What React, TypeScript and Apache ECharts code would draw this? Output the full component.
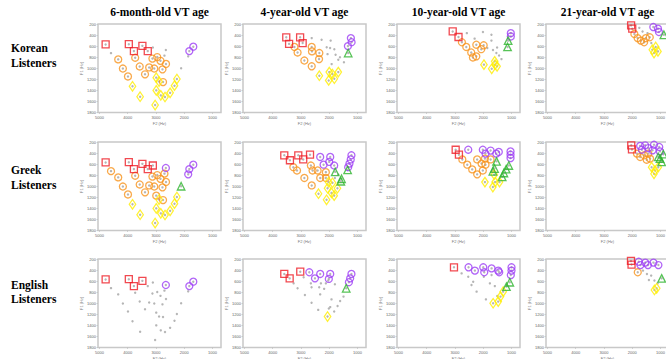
import React, { useEffect, useRef } from "react";
import * as echarts from "echarts";

type P = [number, number];

const columnTitles = ["6-month-old VT age", "4-year-old VT age", "10-year-old VT age", "21-year-old VT age"];
const rowTitles = [["Korean", "Listeners"], ["Greek", "Listeners"], ["English", "Listeners"]];
const f2Ticks = [5000, 4000, 3000, 2000, 1000];
const f1Ticks = [200, 400, 600, 800, 1000, 1200, 1400, 1600, 1800];

// ---------- 6-month-old VT age ----------
const korean6mRed: P[] = [[4780, 570], [3960, 565], [3780, 690], [3480, 595], [3290, 690]];
const korean6mPurple: P[] = [[1820, 690], [1680, 610]];
const korean6mOrange: P[] = [[4335, 840], [4170, 1005], [3990, 1148], [3735, 810], [3575, 968], [3387, 1110], [3240, 985], [3125, 825], [3060, 1005], [2955, 798], [2840, 866], [2770, 1020], [2645, 922], [2750, 1250]];
const korean6mYellow: P[] = [[2990, 1170], [2890, 1240], [3830, 1326], [3560, 1515], [3030, 1665], [2990, 1400], [2830, 1490], [2680, 1520], [2500, 1445], [2345, 1315], [2260, 1195]];
const korean6mGray: P[] = [[3110, 625], [2650, 670], [1860, 785], [2110, 1000], [4590, 727], [2700, 772]];

const greek6mRed: P[] = [[4780, 570], [3960, 565], [3780, 690], [3480, 595], [3290, 690], [3110, 625]];
const greek6mPurple: P[] = [[2650, 670], [1860, 785], [1820, 690], [1680, 610]];
const greek6mGreen: P[] = [[2110, 1000]];
const greek6mOrange: P[] = [[4590, 727], [4335, 840], [4170, 1005], [3990, 1148], [3735, 810], [3575, 968], [3387, 1110], [3240, 985], [3125, 825], [3060, 1005], [2955, 798], [2840, 866], [2770, 1020], [2700, 772], [2645, 922], [2990, 1170], [2750, 1250]];
const greek6mYellow: P[] = [[2890, 1240], [3830, 1326], [3560, 1515], [3030, 1665], [2990, 1400], [2830, 1490], [2680, 1520], [2500, 1445], [2345, 1315], [2260, 1195]];

const english6mRed: P[] = [[4780, 570], [3960, 565], [3780, 690], [3480, 595]];
const english6mPurple: P[] = [[2650, 670], [1820, 690], [1680, 610]];
const english6mGray: P[] = [[3290, 690], [3110, 625], [1860, 785], [2110, 1000], [4590, 727], [4335, 840], [4170, 1005], [3990, 1148], [3735, 810], [3575, 968], [3387, 1110], [3240, 985], [3125, 825], [3060, 1005], [2955, 798], [2840, 866], [2770, 1020], [2700, 772], [2645, 922], [2990, 1170], [2750, 1250], [2890, 1240], [3830, 1326], [3560, 1515], [3030, 1665], [2990, 1400], [2830, 1490], [2680, 1520], [2500, 1445], [2345, 1315], [2260, 1195]];

// ---------- 4-year-old VT age ----------
const korean4yRed: P[] = [[3520, 440], [3420, 560], [3030, 440], [2940, 545]];
const korean4yOrange: P[] = [[3230, 615], [3120, 715], [2880, 860], [2620, 615], [2610, 695], [2350, 725], [2360, 835], [2620, 965]];
const korean4yYellow: P[] = [[2350, 1135], [2000, 1070], [1890, 1105], [1680, 1070], [1820, 1190], [2020, 1220]];
const korean4yPurple: P[] = [[1235, 455], [1210, 530], [1340, 600]];
const korean4yGreen: P[] = [[1330, 725]];
const korean4yGray: P[] = [[2620, 455], [2270, 485], [1950, 500], [2090, 620], [1970, 635], [1820, 655], [2060, 745], [1775, 755], [1915, 925], [1680, 845], [1480, 890], [1620, 800]];

const greek4yRed: P[] = [[3590, 440], [3390, 530], [3095, 440], [2920, 515], [2680, 430]];
const greek4yPurple: P[] = [[2320, 470], [1965, 470], [2000, 560], [2200, 610], [1825, 625], [1215, 440], [1240, 515], [1285, 590], [1330, 655]];
const greek4yGreen: P[] = [[1790, 740], [1350, 705], [1565, 865], [1590, 910]];
const greek4yOrange: P[] = [[3270, 655], [3140, 715], [2880, 850], [2650, 625], [2590, 715], [2410, 715], [2320, 850], [2120, 745], [2120, 850], [2620, 985]];
const greek4yYellow: P[] = [[2380, 1135], [2025, 925], [1885, 937], [2060, 1035], [1710, 1035], [1920, 1120], [1825, 1170], [2095, 1245]];
const greek4yGray: P[] = [[1800, 850], [1680, 790]];

const english4yRed: P[] = [[3590, 470], [3400, 550], [3025, 430]];
const english4yPurple: P[] = [[2705, 440], [2505, 550], [2320, 470], [1965, 470], [2015, 560], [1215, 470], [1260, 550], [1305, 620]];
const english4yGreen: P[] = [[1400, 730]];
const english4yYellow: P[] = [[2060, 1240]];
const english4yGray: P[] = [[3260, 640], [3120, 730], [2905, 530], [2860, 850], [2625, 990], [2650, 640], [2625, 710], [2355, 710], [2320, 840], [2390, 1120], [2295, 640], [2120, 640], [2180, 740], [1920, 930], [1800, 655], [1965, 1070], [2015, 1095], [1825, 1150], [1705, 1050], [1615, 960], [1495, 880], [2035, 590]];

// ---------- 10-year-old VT age ----------
const korean10yRed: P[] = [[3080, 335], [2875, 435]];
const korean10yOrange: P[] = [[2755, 530], [2600, 615], [2425, 715], [2365, 805], [2245, 785], [2245, 575], [2070, 655], [1985, 585]];
const korean10yYellow: P[] = [[1975, 935], [1700, 1010], [1595, 875], [1580, 935], [1510, 965]];
const korean10yPurple: P[] = [[1025, 365], [1025, 425]];
const korean10yGreen: P[] = [[1120, 500], [1140, 615]];
const korean10yGray: P[] = [[2580, 365], [2305, 465], [2010, 345], [1710, 395], [1710, 500], [1855, 635], [1655, 670], [1510, 625], [1535, 725], [1440, 770], [1355, 835]];

const greek10yRed: P[] = [[2975, 340], [2860, 430]];
const greek10yPurple: P[] = [[2530, 340], [2015, 340], [1920, 410], [1740, 355], [1540, 410], [1450, 380], [1035, 370], [1035, 430], [1035, 490]];
const greek10yGreen: P[] = [[1530, 550], [1600, 680], [1660, 730], [1095, 625], [1190, 690], [1270, 760], [1330, 830]];
const greek10yOrange: P[] = [[2740, 515], [2565, 610], [2390, 695], [2215, 785], [2215, 515], [2060, 590], [1940, 500], [1920, 610], [2015, 715], [1740, 515]];
const greek10yYellow: P[] = [[1940, 925], [1610, 790], [1580, 925], [1660, 1015], [1425, 925]];

const english10yRed: P[] = [[3035, 350]];
const english10yPurple: P[] = [[2520, 350], [2295, 410], [2000, 350], [1965, 440], [1705, 370], [1470, 410], [1435, 440], [1000, 350], [1000, 410], [1025, 490]];
const english10yGreen: P[] = [[1060, 620], [1180, 700]];
const english10yYellow: P[] = [[1650, 1000], [1470, 970], [1390, 880], [1295, 790]];
const english10yGray: P[] = [[2765, 460], [2530, 520], [2355, 610], [2235, 790], [2415, 670], [1980, 520], [1705, 490], [1765, 640], [1590, 690], [1505, 870], [1905, 930]];

// ---------- 21-year-old VT age ----------
const korean21yRed: P[] = [[2040, 225], [2000, 285]];
const korean21yOrange: P[] = [[1925, 380], [1810, 455], [1695, 500], [1580, 530], [1520, 455], [1380, 440]];
const korean21yPurple: P[] = [[1255, 255], [1090, 285], [1055, 345]];
const korean21yYellow: P[] = [[1290, 665], [1170, 615], [1090, 695], [1230, 725]];
const korean21yGreen: P[] = [[880, 395]];
const korean21yGray: P[] = [[1750, 270], [1635, 335], [1460, 365], [1325, 545]];

const greek21yRed: P[] = [[2035, 260], [2010, 335]];
const greek21yPurple: P[] = [[1720, 270], [1545, 260], [1430, 310], [1230, 250], [1045, 290], [1280, 350], [1660, 340], [1020, 370]];
const greek21yOrange: P[] = [[1835, 410], [1720, 470], [1580, 440], [1430, 410], [1370, 500], [1490, 520]];
const greek21yGreen: P[] = [[1080, 470], [1020, 500], [900, 420], [960, 560]];
const greek21yYellow: P[] = [[1315, 655], [1195, 715], [1080, 655], [1230, 775]];

const english21yRed: P[] = [[2045, 235], [2025, 300]];
const english21yPurple: P[] = [[1770, 250], [1710, 310], [1540, 265], [1445, 310], [1250, 265], [1075, 310]];
const english21yOrange: P[] = [[1805, 440]];
const english21yYellow: P[] = [[1215, 760], [1135, 730]];
const english21yGreen: P[] = [[960, 550]];
const english21yGray: P[] = [[1620, 410], [1480, 470], [1330, 500], [1410, 580], [1215, 590], [1100, 640]];

type Panel = { gray?: P[]; red?: P[]; orange?: P[]; yellow?: P[]; purple?: P[]; green?: P[] };

const panels: Panel[] = [
  { red: korean6mRed, purple: korean6mPurple, orange: korean6mOrange, yellow: korean6mYellow, gray: korean6mGray },
  { red: korean4yRed, orange: korean4yOrange, yellow: korean4yYellow, purple: korean4yPurple, green: korean4yGreen, gray: korean4yGray },
  { red: korean10yRed, orange: korean10yOrange, yellow: korean10yYellow, purple: korean10yPurple, green: korean10yGreen, gray: korean10yGray },
  { red: korean21yRed, orange: korean21yOrange, yellow: korean21yYellow, purple: korean21yPurple, green: korean21yGreen, gray: korean21yGray },
  { red: greek6mRed, purple: greek6mPurple, green: greek6mGreen, orange: greek6mOrange, yellow: greek6mYellow },
  { red: greek4yRed, purple: greek4yPurple, green: greek4yGreen, orange: greek4yOrange, yellow: greek4yYellow, gray: greek4yGray },
  { red: greek10yRed, purple: greek10yPurple, green: greek10yGreen, orange: greek10yOrange, yellow: greek10yYellow },
  { red: greek21yRed, purple: greek21yPurple, green: greek21yGreen, orange: greek21yOrange, yellow: greek21yYellow },
  { red: english6mRed, purple: english6mPurple, gray: english6mGray },
  { red: english4yRed, purple: english4yPurple, green: english4yGreen, yellow: english4yYellow, gray: english4yGray },
  { red: english10yRed, purple: english10yPurple, green: english10yGreen, yellow: english10yYellow, gray: english10yGray },
  { red: english21yRed, purple: english21yPurple, orange: english21yOrange, yellow: english21yYellow, green: english21yGreen, gray: english21yGray },
];

const markerStyles: Record<string, { symbol: string; size: number | number[]; color: string }> = {
  red: { symbol: "rect", size: 7, color: "#ed1c24" },
  orange: { symbol: "circle", size: 7, color: "#f7941d" },
  yellow: { symbol: "diamond", size: [6.5, 9.5], color: "#ffee00" },
  purple: { symbol: "circle", size: 7, color: "#9e3ff5" },
  green: { symbol: "triangle", size: 7.5, color: "#2db42d" },
};

const colLeft = [98, 243, 397, 546];
const rowTop = [24, 142, 259];
const gridW = 123;
const gridH = 88.5;

export default function App() {
  const ref = useRef<HTMLDivElement>(null);
  useEffect(() => {
    if (!ref.current) return;
    const chart = echarts.init(ref.current, undefined, { renderer: "svg" });
    const grid: any[] = [];
    const xAxis: any[] = [];
    const yAxis: any[] = [];
    const series: any[] = [];
    const tickFont = { fontSize: 4, color: "#666", fontFamily: "Liberation Sans", formatter: (v: number) => String(v) };
    panels.forEach((p, i) => {
      const r = Math.floor(i / 4);
      const c = i % 4;
      grid.push({
        left: colLeft[c], top: rowTop[r], width: gridW, height: gridH,
        show: true, borderColor: "#c8c8c8", borderWidth: 1.5, backgroundColor: "#fff",
        outerBoundsMode: "none", containLabel: false,
      });
      xAxis.push({
        type: "value", gridIndex: i, min: 700, max: 5050, inverse: true,
        name: "F2 (Hz)", nameLocation: "middle", nameGap: 8.5,
        nameTextStyle: { fontSize: 4, color: "#777", fontFamily: "Liberation Sans" },
        axisLine: { show: false },
        axisTick: { show: true, length: 1.5, customValues: f2Ticks, lineStyle: { color: "#bbb", width: 0.6 } },
        axisLabel: { ...tickFont, margin: 3, customValues: f2Ticks },
        splitLine: { show: false },
      });
      yAxis.push({
        type: "value", gridIndex: i, min: 200, max: 1800, interval: 200, inverse: true,
        name: "F1 (Hz)", nameLocation: "middle", nameGap: 9,
        nameTextStyle: { fontSize: 4, color: "#777", fontFamily: "Liberation Sans" },
        axisLine: { show: false },
        axisTick: { show: true, length: 1.5, customValues: f1Ticks, lineStyle: { color: "#bbb", width: 0.6 } },
        axisLabel: { ...tickFont, margin: 2, customValues: f1Ticks },
        splitLine: { show: false },
      });
      const colored: P[] = [];
      (["red", "orange", "yellow", "purple", "green"] as const).forEach((k) => {
        const d = p[k];
        if (d && d.length) colored.push(...d);
      });
      series.push({
        type: "scatter", xAxisIndex: i, yAxisIndex: i, silent: true,
        symbol: "circle", symbolSize: 2.4,
        itemStyle: { color: "#a3a3a3" },
        data: [...(p.gray || []), ...colored],
        z: 2,
      });
      (["orange", "yellow", "purple", "green", "red"] as const).forEach((k) => {
        const d = p[k];
        if (!d || !d.length) return;
        const st = markerStyles[k];
        series.push({
          type: "scatter", xAxisIndex: i, yAxisIndex: i, silent: true,
          symbol: st.symbol, symbolSize: st.size,
          itemStyle: { color: "rgba(0,0,0,0)", borderColor: st.color, borderWidth: 1.3 },
          data: d, z: 3,
        });
      });
    });
    const graphic: any[] = [];
    columnTitles.forEach((t, c) => {
      graphic.push({
        type: "text", x: colLeft[c] + gridW / 2, y: 12,
        style: {
          text: t, fill: "#000", fontSize: 11.5, fontWeight: "bold", fontFamily: "Liberation Serif",
          align: "center", verticalAlign: "middle", textAlign: "center", textVerticalAlign: "middle",
        },
      });
    });
    const rowY = [[48, 63], [170, 185], [285, 299]];
    rowTitles.forEach((lines, r) => {
      lines.forEach((t, j) => {
        graphic.push({
          type: "text", x: 11, y: rowY[r][j],
          style: {
            text: t, fill: "#000", fontSize: 11.5, fontWeight: "bold", fontFamily: "Liberation Serif",
            align: "left", verticalAlign: "middle", textAlign: "left", textVerticalAlign: "middle",
          },
        });
      });
    });
    chart.setOption({ animation: false, backgroundColor: "#fff", grid, xAxis, yAxis, series, graphic });
    return () => chart.dispose();
  }, []);
  return (
    <div
      ref={ref}
      style={{ position: "fixed", left: 0, top: 0, width: 666, height: 359, background: "#fff" }}
    />
  );
}
